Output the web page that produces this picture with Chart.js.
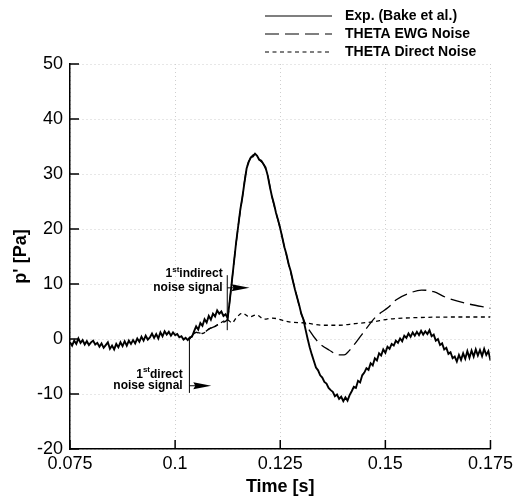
<!DOCTYPE html>
<html>
<head>
<meta charset="utf-8">
<script src="https://cdn.jsdelivr.net/npm/chart.js@4.4.0/dist/chart.umd.min.js"></script>
<style>
  html, body { margin: 0; padding: 0; background: #fff; }
</style>
</head>
<body>
<canvas id="pChart" width="517" height="498"></canvas>
<script>
const FONT = '"Liberation Sans", Arial, Helvetica, sans-serif';

// axis ticks
const timeTicks = [0.075, 0.1, 0.125, 0.15, 0.175];
const timeLabels = ['0.075', '0.1', '0.125', '0.15', '0.175'];
const pTicks = [-20, -10, 0, 10, 20, 30, 40, 50];

// measured pressure, one sample every 0.5 ms from 0.075 s
const expStart = 0.075;
const expStep = 0.0005;
const expP = [
  -0.6, -1.2, -0.3, -0.9, 0.1, -0.7, -0.2, -1.0, -0.4, -1.1, -0.6,
  -0.3, -1.0, -0.7, -1.4, -0.8, -1.6, -1.1, -0.6, -1.8, -1.2,
  -1.9, -0.9, -1.5, -0.6, -1.3, -0.4, -1.2, -0.3, -0.9, -0.2,
  -0.8, 0.1, -0.5, 0.4, -0.3, 0.6, -0.1, 0.3, 1.0, 0.2,
  0.9, 0.1, 1.2, 0.5, 1.4, 0.8,
  1.3, 0.6, 1.2, 0.7,
  0.9, 0.3, 0.5, -0.1, 0.2,
  -0.2, 0.3, 0.4,
  1.4, 2.3, 1.7, 2.9,
  2.4, 3.6, 3.0, 4.2,
  3.5, 4.6, 4.1, 5.2,
  4.6, 5.0, 4.2, 4.5,
  3.8,
  7.0, 10.5, 14.0, 17.5, 20.5, 23.5, 25.8, 28.5, 31.0, 32.2,
  33.0, 33.2, 33.7, 33.3, 32.6, 32.4, 31.8, 31.2, 29.8, 27.8,
  26.0, 24.6, 22.9, 21.6, 20.1, 18.4, 16.7, 15.3, 13.6, 12.3,
  10.6, 9.0, 7.6, 6.2, 4.6, 3.6, 1.8, 0.1, -1.5, -2.8,
  -4.0, -5.2, -5.7, -6.6, -7.0, -7.8, -8.1, -8.9, -9.3, -9.6,
  -10.4, -10.1, -10.9, -10.5, -11.3, -10.6, -11.2, -10.2, -9.5, -8.7,
  -8.9, -7.6, -7.9, -6.6, -6.1, -5.3, -5.6, -4.4, -4.8, -3.5,
  -3.9, -2.6, -3.0, -1.9, -2.5, -1.4, -1.8, -0.9, -1.2, -0.3,
  -0.7, 0.1, -0.4, 0.6, 0.2, 1.0, 0.4, 1.2, 0.6, 1.3,
  0.7, 1.5, 0.8, 1.4, 0.9, 1.6, 0.5, 0.8, -0.3, 0.0,
  -1.1, -0.8, -1.9, -1.6, -2.7, -2.4, -3.5, -3.2, -4.1, -2.9,
  -3.8, -2.6, -3.6, -2.2, -3.4, -2.1, -3.2, -1.9, -3.0, -2.0,
  -3.1, -1.8, -2.9, -2.2, -3.9
];

// THETA, engine-wave-generator noise
const ewgT = [0.1034, 0.105, 0.1065, 0.108, 0.1095, 0.111, 0.1124,
  0.113, 0.1135, 0.114, 0.115, 0.116, 0.117, 0.118, 0.119, 0.12,
  0.121, 0.122, 0.123, 0.124, 0.125, 0.126, 0.127, 0.128, 0.129, 0.13,
  0.1308, 0.1319, 0.1342, 0.1366, 0.139, 0.1402, 0.1413, 0.1444, 0.1477, 0.1508,
  0.1525, 0.1563, 0.1586, 0.1615, 0.1643, 0.1691, 0.175];
const ewgP = [0.0, 1.2, 1.0, 1.8, 2.3, 3.0, 3.5,
  7.0, 10.5, 14.0, 20.5, 25.8, 31.0, 33.0, 33.6, 32.6,
  31.8, 29.8, 26.0, 22.9, 20.1, 16.7, 13.6, 10.6, 7.6, 4.6,
  3.1, 1.6, -0.7, -2.0, -2.9, -2.9, -2.2, 0.8, 4.0, 5.8,
  7.1, 8.5, 8.9, 8.6, 7.6, 6.5, 5.6];

// THETA, direct noise only
const directT = [0.1034, 0.105, 0.1065, 0.108, 0.1095, 0.111, 0.1124,
  0.1136, 0.1143, 0.116, 0.1177, 0.1193, 0.1212, 0.1231, 0.1271, 0.1312,
  0.135, 0.139, 0.1428, 0.1468, 0.1508, 0.1579, 0.1691, 0.175];
const directP = [0.0, 1.2, 1.0, 1.8, 2.3, 3.0, 3.5,
  2.9, 3.6, 4.7, 4.0, 4.4, 3.6, 3.8, 3.1, 2.9,
  2.5, 2.5, 2.8, 3.1, 3.6, 3.9, 4.0, 4.0];

const toPoints = (ts, ps) => ts.map((t, i) => ({x: t, y: ps[i]}));

// arrival markers, in data units
const markers = [
  {word: 'indirect', t: 0.1124, top: 11.6, bottom: 1.6, arrowP: 9.3, arrowT: 0.1177,
   textT: 0.1113, line1P: 11.8, line2P: 9.3},
  {word: 'direct', t: 0.1034, top: 0.2, bottom: -9.8, arrowP: -8.5, arrowT: 0.1086,
   textT: 0.1018, line1P: -6.4, line2P: -8.5}
];

const decorations = {
  id: 'decorations',
  afterDraw(chart) {
    const {ctx, chartArea: area} = chart;
    const x = chart.scales.x, y = chart.scales.y;
    ctx.save();
    ctx.strokeStyle = '#000';
    ctx.fillStyle = '#000';

    // tick marks point into the plot
    ctx.lineWidth = 1.5;
    ctx.beginPath();
    timeTicks.forEach(t => {
      const px = x.getPixelForValue(t);
      ctx.moveTo(px, area.bottom);
      ctx.lineTo(px, area.bottom - 9);
    });
    pTicks.forEach(p => {
      const py = y.getPixelForValue(p);
      ctx.moveTo(area.left, py);
      ctx.lineTo(area.left + 9, py);
    });
    ctx.stroke();

    // "1st ... noise signal" markers
    markers.forEach(m => {
      const lx = x.getPixelForValue(m.t);
      ctx.lineWidth = 1;
      ctx.beginPath();
      ctx.moveTo(lx, y.getPixelForValue(m.top));
      ctx.lineTo(lx, y.getPixelForValue(m.bottom));
      const ay = y.getPixelForValue(m.arrowP);
      const ax = x.getPixelForValue(m.arrowT);
      ctx.moveTo(lx, ay);
      ctx.lineTo(ax - 14, ay);
      ctx.stroke();
      ctx.beginPath();
      ctx.moveTo(ax, ay);
      ctx.lineTo(ax - 18, ay - 3.5);
      ctx.lineTo(ax - 16, ay);
      ctx.lineTo(ax - 18, ay + 3.5);
      ctx.closePath();
      ctx.fill();

      const right = x.getPixelForValue(m.textT);
      ctx.textBaseline = 'middle';
      ctx.textAlign = 'left';
      ctx.font = 'bold 12px ' + FONT;
      const w1 = ctx.measureText('1').width;
      const ww = ctx.measureText(m.word).width;
      ctx.font = 'bold 8px ' + FONT;
      const ws = ctx.measureText('st').width;
      const y1 = y.getPixelForValue(m.line1P);
      let cx = right - (w1 + ws + ww);
      ctx.font = 'bold 12px ' + FONT;
      ctx.fillText('1', cx, y1);
      cx += w1;
      ctx.font = 'bold 8px ' + FONT;
      ctx.fillText('st', cx, y1 - 4);
      cx += ws;
      ctx.font = 'bold 12px ' + FONT;
      ctx.fillText(m.word, cx, y1);
      ctx.textAlign = 'right';
      ctx.fillText('noise signal', right, y.getPixelForValue(m.line2P));
    });

    // legend, top right
    ctx.font = 'bold 14px ' + FONT;
    ctx.textAlign = 'left';
    ctx.textBaseline = 'middle';
    chart.data.datasets.forEach((ds, i) => {
      const ly = 16 + i * 18;
      ctx.lineWidth = 1.1;
      ctx.setLineDash(ds.borderDash || []);
      ctx.beginPath();
      ctx.moveTo(265, ly);
      ctx.lineTo(332, ly);
      ctx.stroke();
      ctx.setLineDash([]);
      ctx.fillText(ds.label, 345, ly);
    });
    ctx.restore();
  }
};

new Chart(document.getElementById('pChart'), {
  type: 'line',
  data: {
    datasets: [
      {
        label: 'Exp. (Bake et al.)',
        data: expP.map((p, i) => ({x: expStart + i * expStep, y: p})),
        borderColor: '#000',
        borderWidth: 1.9,
        pointRadius: 0,
        tension: 0
      },
      {
        label: 'THETA EWG Noise',
        data: toPoints(ewgT, ewgP),
        borderColor: '#000',
        borderWidth: 1.3,
        borderDash: [14, 6],
        pointRadius: 0,
        cubicInterpolationMode: 'monotone'
      },
      {
        label: 'THETA Direct Noise',
        data: toPoints(directT, directP),
        borderColor: '#000',
        borderWidth: 1.3,
        borderDash: [4, 3.5],
        pointRadius: 0,
        cubicInterpolationMode: 'monotone'
      }
    ]
  },
  options: {
    responsive: false,
    animation: false,
    layout: {padding: {top: 64, right: 25, left: 0, bottom: 0}},
    plugins: {
      legend: {display: false},
      tooltip: {enabled: false}
    },
    scales: {
      x: {
        type: 'linear',
        min: 0.075,
        max: 0.175,
        afterBuildTicks: s => { s.ticks = timeTicks.map(v => ({value: v})); },
        afterFit: s => { s.height = 49; },
        ticks: {
          callback: (v, i) => timeLabels[i],
          font: {family: FONT, size: 18},
          color: '#000',
          padding: 4,
          maxRotation: 0,
          autoSkip: false
        },
        grid: {color: '#cfcfcf', lineWidth: 1, drawTicks: false},
        border: {color: '#000', width: 1.5, dash: [1, 3]},
        title: {
          display: true,
          text: 'Time [s]',
          font: {family: FONT, size: 18, weight: 'bold'},
          color: '#000',
          padding: {top: 0, bottom: 0}
        }
      },
      y: {
        type: 'linear',
        min: -20,
        max: 50,
        afterBuildTicks: s => { s.ticks = pTicks.map(v => ({value: v})); },
        afterFit: s => { s.width = 70; },
        ticks: {
          callback: v => String(v),
          font: {family: FONT, size: 18},
          color: '#000',
          padding: 7
        },
        grid: {color: '#cfcfcf', lineWidth: 1, drawTicks: false},
        border: {color: '#000', width: 1.5, dash: [1, 3]},
        title: {
          display: true,
          text: "p' [Pa]",
          font: {family: FONT, size: 18, weight: 'bold'},
          color: '#000',
          padding: {top: 10, bottom: 0}
        }
      }
    }
  },
  plugins: [decorations]
});
</script>
</body>
</html>
